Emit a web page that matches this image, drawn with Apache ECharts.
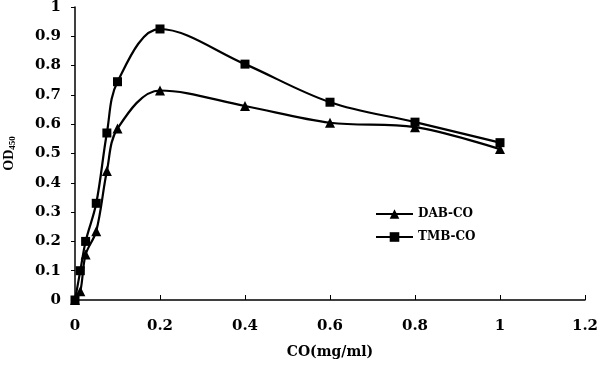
<!DOCTYPE html>
<html><head><meta charset="utf-8">
<script src="https://cdn.jsdelivr.net/npm/echarts@6/dist/echarts.min.js"></script>
<style>html,body{margin:0;padding:0;background:#fff}#c{width:600px;height:371px}</style>
</head><body><div id="c"></div>
<script>
var xValues = [0, 0.0125, 0.025, 0.05, 0.075, 0.1, 0.2, 0.4, 0.6, 0.8, 1.0];
var dabValues = [0, 0.03, 0.155, 0.235, 0.44, 0.585, 0.715, 0.662, 0.605, 0.59, 0.515];
var tmbValues = [0, 0.1, 0.2, 0.33, 0.57, 0.745, 0.925, 0.805, 0.675, 0.607, 0.537];
var seriesNames = ['DAB-CO', 'TMB-CO'];
var xAxisTitle = 'CO(mg/ml)';

function pairs(xs, ys){ return xs.map(function(x,i){ return [x, ys[i]]; }); }
var font = '"DejaVu Serif", serif';
var tfont = '"Liberation Serif", serif';
var chart = echarts.init(document.getElementById('c'), null, {renderer:'canvas'});
chart.setOption({
  animation:false,
  backgroundColor:'#fff',
  grid:{left:75, right:15, top:7, bottom:71, containLabel:false, outerBoundsMode:'none'},
  legend:{
    orient:'vertical', left:370, top:203, padding:5, itemGap:11, itemWidth:37, itemHeight:12,
    textStyle:{fontFamily:font, fontWeight:'bold', fontSize:12, color:'#000'},
    data:[seriesNames[0], seriesNames[1]]
  },
  xAxis:{
    type:'value', min:0, max:1.2, interval:0.2,
    name:xAxisTitle, nameLocation:'middle', nameGap:45,
    nameTextStyle:{fontFamily:font, fontWeight:'bold', fontSize:14, color:'#000'},
    axisLine:{lineStyle:{color:'#000', width:1.5}},
    axisTick:{inside:true, length:5, lineStyle:{color:'#000'}},
    axisLabel:{fontFamily:font, fontWeight:'bold', fontSize:15, color:'#000', margin:19},
    splitLine:{show:false}
  },
  yAxis:{
    type:'value', min:0, max:1, interval:0.1,
    name:'{a|OD}{b|450}', nameLocation:'middle', nameGap:58, nameRotate:90,
    nameTextStyle:{rich:{
      a:{fontFamily:tfont, fontWeight:'bold', fontSize:14, color:'#000'},
      b:{fontFamily:tfont, fontWeight:'bold', fontSize:9, color:'#000', padding:[6,0,0,0]}
    }},
    axisLine:{show:true, lineStyle:{color:'#000', width:1.5}},
    axisTick:{show:true, length:4, lineStyle:{color:'#000'}},
    axisLabel:{fontFamily:font, fontWeight:'bold', fontSize:15, color:'#000', margin:14},
    splitLine:{show:false}
  },
  series:[
    {name:seriesNames[0], type:'line', smooth:0.35, symbol:'triangle', symbolSize:10,
     data:pairs(xValues, dabValues), itemStyle:{color:'#000'}, lineStyle:{color:'#000', width:2.2}},
    {name:seriesNames[1], type:'line', smooth:0.35, symbol:'rect', symbolSize:9,
     data:pairs(xValues, tmbValues), itemStyle:{color:'#000'}, lineStyle:{color:'#000', width:2.2}}
  ]
});
</script></body></html>
